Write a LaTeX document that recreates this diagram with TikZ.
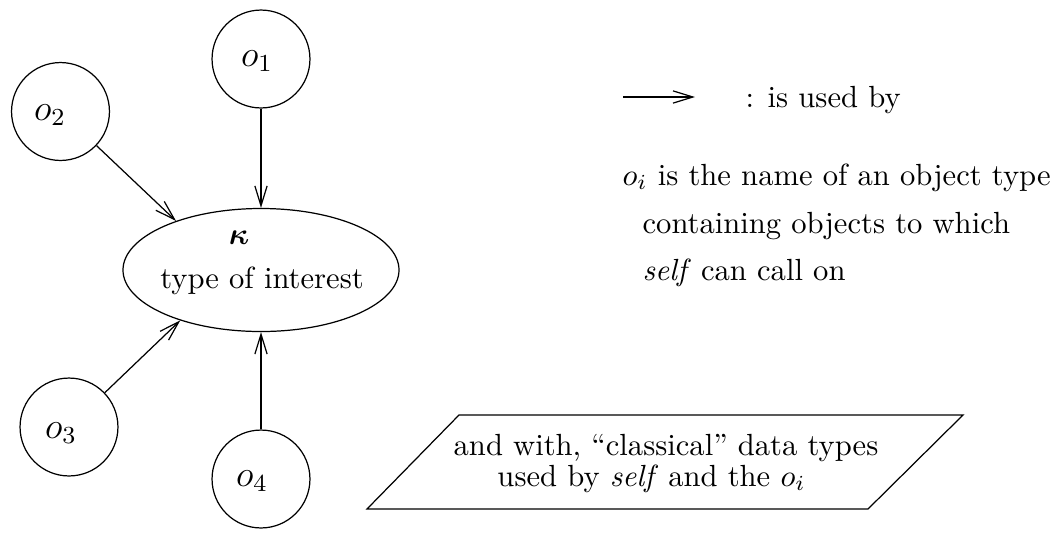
\documentclass[tikz,border=0pt]{standalone}
\usepackage{bm}
\usetikzlibrary{arrows.meta,shapes.geometric}
\begin{document}
\begin{tikzpicture}[x=0.3268pt,y=-0.3268pt,
  obj/.style={circle,draw,minimum size=32pt,inner sep=0pt},
  lbl/.style={inner sep=0pt,font=\large},
  toi/.style={ellipse,draw,minimum width=90.2pt,minimum height=40.2pt,inner sep=0pt},
  use/.style={draw,-{Straight Barb[length=6.5pt,width=4pt]}},
  txt/.style={inner sep=0pt,anchor=base west},
  ctxt/.style={inner sep=0pt,anchor=base}]
\useasboundingbox (0,0) rectangle (1058,543);
% type of interest
\node[toi] (k) at (261,270) {};
\node[inner sep=0pt] (kap) at (239,238) {$\bm{\kappa}$};
\node[ctxt] (toitxt) at (262,288) {type of interest};
% object types
\node[obj] (o1) at (261,59) {};
\node[obj] (o2) at (60.5,111.5) {};
\node[obj] (o3) at (69,427) {};
\node[obj] (o4) at (261,479) {};
\node[lbl] (l1) at (257,61) {$o_1$};
\node[lbl] (l2) at (50,115) {$o_2$};
\node[lbl] (l3) at (61,433) {$o_3$};
\node[lbl] (l4) at (252,481) {$o_4$};
% connectors
\draw[use] (o1) -- (k.north);
\draw[use] (o2) -- (k.150.5);
\draw[use] (o3) -- (k.212);
\draw[use] (o4) -- (k.south);
% legend
\coordinate (la) at (623,97);
\coordinate (lb) at (695,97);
\draw[use] (la) -- (lb);
\node[txt] (lt) at (745,107) {: is used by};
\node[txt] (t1) at (622,185) {$o_i$ is the name of an object type};
\node[txt] (t2) at (642,233) {containing objects to which};
\node[txt] (t3) at (642,280) {\emph{self} can call on};
% data types
\coordinate (p1) at (367,509);
\coordinate (p2) at (459,415);
\coordinate (p3) at (963,415);
\coordinate (p4) at (868,509);
\draw (p1) -- (p2) -- (p3) -- (p4) -- cycle;
\node[ctxt] (c1) at (666,455) {and with, “classical” data types};
\node[ctxt] (c2) at (651.5,486) {used by \emph{self} and the $o_i$};
\end{tikzpicture}
\end{document}
